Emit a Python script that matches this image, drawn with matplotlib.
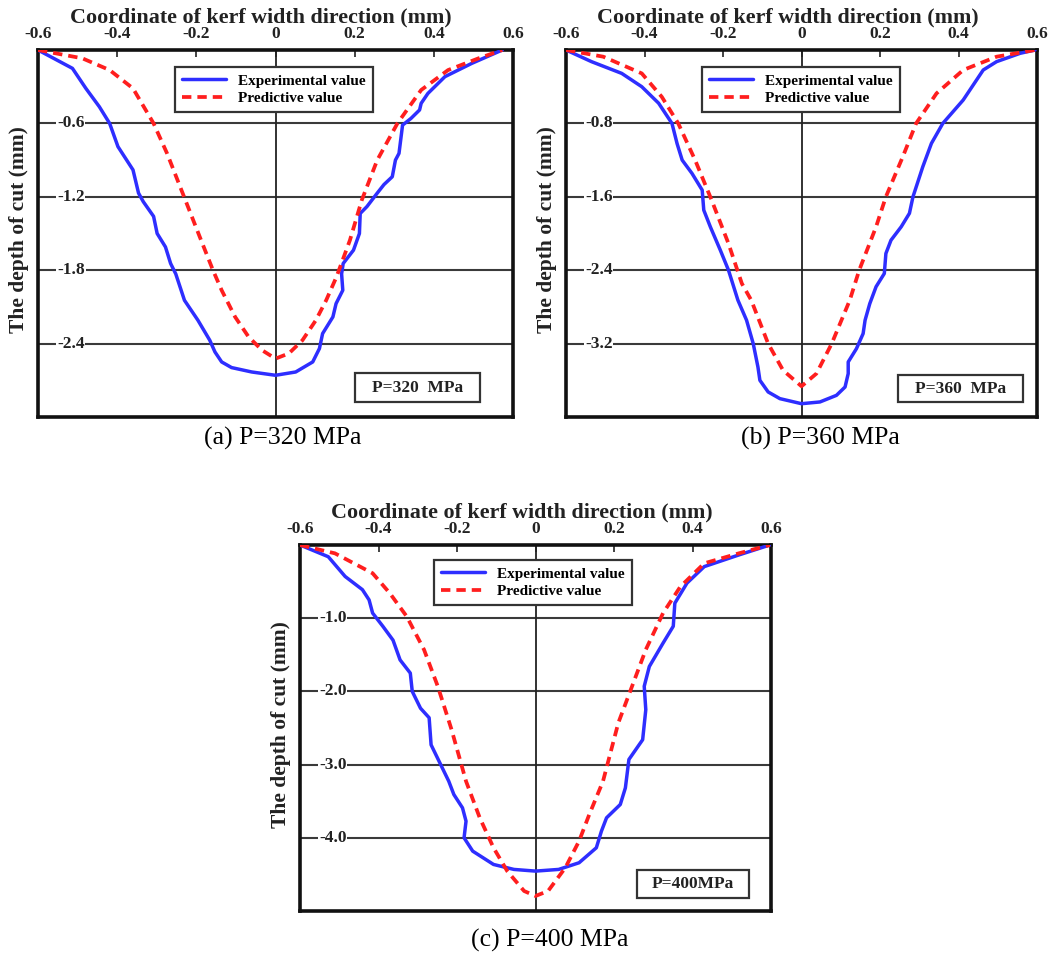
import matplotlib
matplotlib.use("Agg")
import matplotlib.pyplot as plt
from matplotlib.patches import Rectangle

# ---------------- data ----------------
# (a) P = 320 MPa
a_exp_x = [-0.600, -0.513, -0.479, -0.445, -0.419, -0.398, -0.360, -0.346, -0.334, -0.308,
           -0.299, -0.278, -0.265, -0.252, -0.230, -0.196, -0.166, -0.153, -0.136, -0.111,
           -0.060, 0.000, 0.051, 0.094, 0.111, 0.119, 0.145, 0.153, 0.170, 0.167,
           0.171, 0.197, 0.212, 0.214, 0.231, 0.257, 0.274, 0.295, 0.303, 0.312,
           0.321, 0.342, 0.364, 0.368, 0.385, 0.428, 0.496, 0.573]
a_exp_y = [0.000, -0.150, -0.314, -0.464, -0.600, -0.790, -0.980, -1.170, -1.240, -1.360,
           -1.500, -1.610, -1.745, -1.830, -2.046, -2.209, -2.373, -2.468, -2.550, -2.596,
           -2.632, -2.659, -2.632, -2.550, -2.440, -2.318, -2.182, -2.073, -1.964, -1.830,
           -1.745, -1.636, -1.500, -1.336, -1.280, -1.170, -1.100, -1.036, -0.900, -0.845,
           -0.614, -0.560, -0.490, -0.436, -0.355, -0.218, -0.109, 0.000]
a_pre_x = [-0.600, -0.488, -0.419, -0.360, -0.308, -0.274, -0.231, -0.188, -0.158, -0.136,
           -0.102, -0.068, -0.034, 0.000, 0.034, 0.068, 0.102, 0.128, 0.154, 0.188,
           0.218, 0.257, 0.308, 0.368, 0.436, 0.513, 0.573]
a_pre_y = [0.000, -0.068, -0.164, -0.314, -0.600, -0.845, -1.200, -1.555, -1.800, -1.964,
           -2.182, -2.345, -2.454, -2.523, -2.480, -2.373, -2.209, -2.046, -1.855, -1.555,
           -1.227, -0.900, -0.600, -0.327, -0.164, -0.068, 0.000]

# (b) P = 360 MPa
b_exp_x = [-0.600, -0.535, -0.458, -0.407, -0.364, -0.330, -0.317, -0.304, -0.279, -0.253,
           -0.249, -0.232, -0.207, -0.186, -0.162, -0.140, -0.123, -0.111, -0.106, -0.085,
           -0.055, 0.000, 0.047, 0.089, 0.111, 0.119, 0.119, 0.140, 0.157, 0.162,
           0.174, 0.190, 0.211, 0.215, 0.228, 0.254, 0.275, 0.284, 0.309, 0.331,
           0.360, 0.412, 0.463, 0.497, 0.557, 0.595]
b_exp_y = [0.000, -0.127, -0.255, -0.400, -0.580, -0.800, -1.020, -1.200, -1.345, -1.527,
           -1.745, -1.930, -2.180, -2.400, -2.727, -2.945, -3.200, -3.455, -3.600, -3.727,
           -3.800, -3.855, -3.836, -3.764, -3.673, -3.527, -3.400, -3.255, -3.091, -2.945,
           -2.764, -2.580, -2.436, -2.218, -2.073, -1.927, -1.780, -1.600, -1.273, -1.018,
           -0.800, -0.545, -0.218, -0.127, -0.036, 0.000]
b_pre_x = [-0.600, -0.505, -0.407, -0.356, -0.314, -0.271, -0.229, -0.186, -0.152, -0.128,
           -0.085, -0.047, 0.000, 0.038, 0.077, 0.123, 0.147, 0.190, 0.215, 0.258,
           0.292, 0.344, 0.412, 0.497, 0.595]
b_pre_y = [0.000, -0.073, -0.255, -0.510, -0.800, -1.200, -1.636, -2.110, -2.545, -2.727,
           -3.200, -3.491, -3.665, -3.527, -3.200, -2.727, -2.400, -1.927, -1.600, -1.164,
           -0.800, -0.473, -0.218, -0.073, 0.000]

# (c) P = 400 MPa
c_exp_x = [-0.600, -0.528, -0.485, -0.441, -0.424, -0.415, -0.389, -0.363, -0.345, -0.319,
           -0.314, -0.293, -0.271, -0.266, -0.221, -0.208, -0.186, -0.177, -0.182, -0.160,
           -0.107, -0.055, 0.000, 0.059, 0.111, 0.155, 0.168, 0.181, 0.216, 0.229,
           0.238, 0.273, 0.281, 0.277, 0.290, 0.325, 0.351, 0.355, 0.386, 0.430,
           0.518, 0.597]
c_exp_y = [0.000, -0.160, -0.430, -0.610, -0.750, -0.930, -1.110, -1.300, -1.570, -1.750,
           -2.000, -2.230, -2.360, -2.730, -3.227, -3.409, -3.591, -3.773, -4.000, -4.182,
           -4.364, -4.432, -4.455, -4.432, -4.341, -4.136, -3.909, -3.727, -3.545, -3.318,
           -2.930, -2.660, -2.250, -1.930, -1.660, -1.340, -1.110, -0.795, -0.520, -0.295,
           -0.136, 0.000]
c_pre_x = [-0.600, -0.511, -0.415, -0.371, -0.328, -0.284, -0.249, -0.214, -0.177, -0.142,
           -0.107, -0.072, -0.029, 0.000, 0.032, 0.076, 0.111, 0.137, 0.172, 0.211,
           0.246, 0.281, 0.325, 0.369, 0.430, 0.518, 0.597]
c_pre_y = [0.000, -0.114, -0.386, -0.660, -0.977, -1.430, -1.930, -2.520, -3.227, -3.727,
           -4.136, -4.455, -4.727, -4.795, -4.727, -4.409, -4.045, -3.682, -3.227, -2.430,
           -1.930, -1.430, -0.930, -0.570, -0.250, -0.114, 0.000]

x_ticks = [-0.6, -0.4, -0.2, 0.0, 0.2, 0.4, 0.6]
x_tick_labels = ["-0.6", "-0.4", "-0.2", "0", "0.2", "0.4", "0.6"]

a_y_ticks = [-0.6, -1.2, -1.8, -2.4]
b_y_ticks = [-0.8, -1.6, -2.4, -3.2]
c_y_ticks = [-1.0, -2.0, -3.0, -4.0]
a_y_labels = ["-0.6", "-1.2", "-1.8", "-2.4"]
b_y_labels = ["-0.8", "-1.6", "-2.4", "-3.2"]
c_y_labels = ["-1.0", "-2.0", "-3.0", "-4.0"]

a_ymin, b_ymin, c_ymin = -3.0, -4.0, -5.0

pressure_labels = ["P=320  MPa", "P=360  MPa", "P=400MPa"]
captions = ["(a) P=320 MPa", "(b) P=360 MPa", "(c) P=400 MPa"]

# ---------------- styling ----------------
W, H = 1057, 958
SERIF = ["Liberation Serif", "DejaVu Serif"]
BLUE = "#2e2eff"
RED = "#ff1e1e"
GRID = "#3a3a3a"
INK = "#222222"

fig = plt.figure(figsize=(W / 100, H / 100), dpi=100)
fig.patch.set_facecolor("white")


def px_axes(box):
    left, top, right, bottom = box
    return fig.add_axes([left / W, 1 - bottom / H, (right - left) / W, (bottom - top) / H])


def draw_panel(frame, ex, ey, px, py, yticks, ylabels, ymin, legend_px, pbox_px, plabel):
    ax = px_axes(frame)
    fl, ft, fr, fb = frame
    ax_w_px, ax_h_px = fr - fl, fb - ft

    ax.set_xlim(-0.6, 0.6)
    ax.set_ylim(ymin, 0)

    # horizontal grid lines and centre line
    for yv in yticks:
        ax.axhline(yv, color=GRID, lw=1.5, zorder=1)
    ax.axvline(0, color=INK, lw=1.3, zorder=1)

    l1, = ax.plot(ex, ey, color=BLUE, lw=2.5, zorder=3,
                  solid_joinstyle="round", solid_capstyle="round")
    l2, = ax.plot(px, py, color=RED, lw=2.7, ls=(0, (2.5, 1.6)), zorder=4)

    # top x axis
    ax.xaxis.tick_top()
    ax.set_xticks(x_ticks)
    ax.set_xticklabels(x_tick_labels)
    ax.tick_params(axis="x", direction="in", length=5, width=1.2, pad=6,
                   labelsize=12.5, colors=INK)
    for t in ax.get_xticklabels():
        t.set_fontfamily(SERIF)
        t.set_fontweight("bold")
    ax.xaxis.set_label_position("top")
    ax.set_xlabel("Coordinate of kerf width direction (mm)", fontsize=15.8,
                  fontweight="bold", family=SERIF, color=INK, va="center")
    ax.xaxis.set_label_coords(0.47, 1 + 33 / ax_h_px)

    # y tick labels sit inside the frame on the grid lines
    ax.set_yticks([])
    for yv, lab in zip(yticks, ylabels):
        ax.text(19 / ax_w_px, yv, lab, transform=ax.get_yaxis_transform(), ha="left",
                va="center", fontsize=12.5, fontweight="bold", family=SERIF, color=INK,
                zorder=2, bbox=dict(boxstyle="square,pad=0.05", fc="white", ec="none"))
    ax.set_ylabel("The depth of cut (mm)", fontsize=15.5, fontweight="bold",
                  family=SERIF, color=INK, va="center")
    ax.yaxis.set_label_coords(-19 / ax_w_px, 0.51)

    for s in ax.spines.values():
        s.set_linewidth(2.6)
        s.set_color("#111111")

    lx, ly = legend_px
    leg = ax.legend([l1, l2], ["Experimental value", "Predictive value"],
                    loc="upper left",
                    bbox_to_anchor=((lx - fl) / ax_w_px, 1 - (ly - ft) / ax_h_px),
                    borderaxespad=0, frameon=True, fancybox=False, framealpha=1,
                    edgecolor="#333333", prop=dict(family=SERIF, weight="bold", size=11),
                    handlelength=2.9, handletextpad=0.8, labelspacing=0.25,
                    borderpad=0.45)
    leg.get_frame().set_linewidth(1.6)
    leg.set_zorder(6)

    pl, pt, pr, pb = pbox_px
    x0, y0 = (pl - fl) / ax_w_px, 1 - (pb - ft) / ax_h_px
    w, h = (pr - pl) / ax_w_px, (pb - pt) / ax_h_px
    ax.add_patch(Rectangle((x0, y0), w, h, transform=ax.transAxes, fc="white",
                           ec="#333333", lw=1.6, zorder=6))
    ax.text(x0 + w / 2, y0 + h / 2, plabel, transform=ax.transAxes, ha="center",
            va="center", fontsize=12.5, fontweight="bold", family=SERIF, color=INK,
            zorder=7)
    return ax


draw_panel((38, 50, 513, 417), a_exp_x, a_exp_y, a_pre_x, a_pre_y, a_y_ticks, a_y_labels,
           a_ymin, (175, 67), (355, 373, 480, 402), pressure_labels[0])
draw_panel((566, 50, 1037, 417), b_exp_x, b_exp_y, b_pre_x, b_pre_y, b_y_ticks,
           b_y_labels, b_ymin, (702, 67), (898, 375, 1023, 402), pressure_labels[1])
draw_panel((300, 545, 771, 911), c_exp_x, c_exp_y, c_pre_x, c_pre_y, c_y_ticks,
           c_y_labels, c_ymin, (434, 560), (637, 870, 749, 898), pressure_labels[2])

for (cx, cy), txt in zip([(283, 438), (820, 438), (550, 940)], captions):
    fig.text(cx / W, 1 - cy / H, txt, ha="center", va="center", fontsize=18.5,
             family=SERIF, color="black")

fig.savefig("out.png", dpi=100, facecolor="white")
